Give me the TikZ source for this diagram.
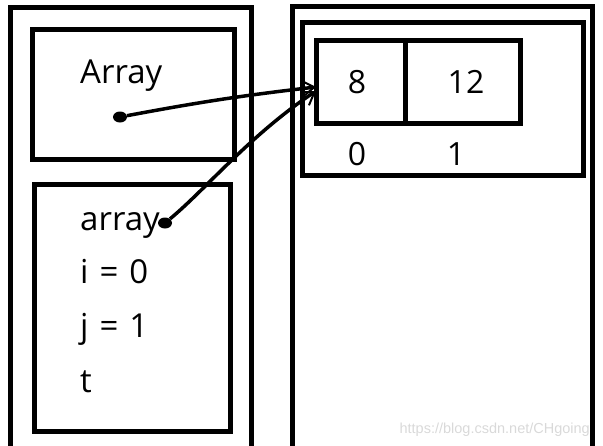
\documentclass[tikz,border=0pt]{standalone}
\usepackage{fontspec}
\setmainfont{Open Sans}
\newfontfamily\wmfont{Liberation Sans}
\usetikzlibrary{arrows.meta,shapes.geometric}
\begin{document}
\begin{tikzpicture}[x=1pt,y=-1pt,
  thick box/.style={draw=black,line width=5pt,inner sep=0pt},
  lbl/.style={inner sep=0pt,font=\fontsize{33}{40}\selectfont},
  num/.style={inner sep=0pt,font=\fontsize{32}{38}\selectfont},
  dotnode/.style={fill=black,ellipse,minimum width=14pt,minimum height=11pt,inner sep=0pt},
  link/.style={line width=3.5pt,-{Straight Barb[length=12pt,width=16pt,line width=2pt]}}]
\useasboundingbox (0,0) rectangle (603,445);
% outer frames
\draw[line width=5pt] (10.5,450) -- (10.5,7) -- (251.5,7) -- (251.5,450);
\draw[line width=5pt] (292,450) -- (292,6.5) -- (592.5,6.5) -- (592.5,450);
% left boxes
\node[thick box,minimum width=202.5pt,minimum height=130.5pt] (arrbox) at (133.25,94.25) {};
\node[thick box,minimum width=196.5pt,minimum height=246.3pt] (frame) at (132.25,307.85) {};
\node[lbl,anchor=base west] (Array) at (80,83) {Array};
\node[lbl,anchor=base west] (array) at (80,230) {array};
\node[lbl,anchor=base west] (i) at (80,283) {i\,\,=\,\,0};
\node[lbl,anchor=base west] (j) at (80,337) {j\,\,=\,\,1};
\node[lbl,anchor=base west] (t) at (80,392) {t};
% right boxes
\node[thick box,minimum width=281.5pt,minimum height=153.5pt] (heap) at (442.75,98.75) {};
\node[thick box,minimum width=88.5pt,minimum height=82.5pt] (c0) at (360.75,81.75) {};
\node[thick box,minimum width=115pt,minimum height=82.5pt] (c1) at (462.5,81.75) {};
\node[num] (v0) at (357,82) {8};
\node[num] (v1) at (466,82) {12};
\node[num] (i0) at (357,154) {0};
\node[num] (i1) at (456,154) {1};
% pointers
\node[dotnode] (d1) at (120,117) {};
\node[dotnode] (d2) at (165,223) {};
\coordinate (t1) at (316,87);
\coordinate (t2) at (316,91);
\draw[link] (d1) to[bend left=2] (t1);
\draw[link] (d2) .. controls (205,190) and (250,135) .. (t2);
% watermark
\node[anchor=base east,inner sep=0pt,text=black!15,font=\wmfont\fontsize{14.5}{16}\selectfont] (wm) at (590,433) {https://blog.csdn.net/CHgoing};
\end{tikzpicture}
\end{document}
